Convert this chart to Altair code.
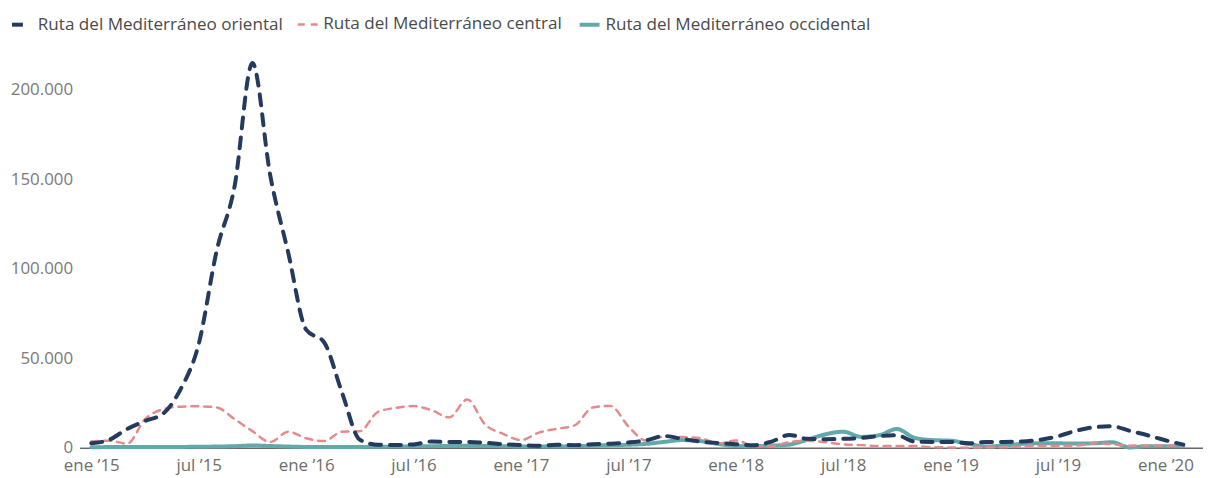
import json
import altair as alt
import pandas as pd

series_names = [
    "Ruta del Mediterráneo oriental",
    "Ruta del Mediterráneo central",
    "Ruta del Mediterráneo occidental",
]
series_colors = ["#243a5e", "#e58a8a", "#62a9a9"]

# monthly, Jan 2015 .. Feb 2020
months = [f"{y}-{m:02d}" for y in range(2015, 2021) for m in range(1, 13)][:62]

oriental = [
    2500, 4500, 10500, 15000, 19000, 33000, 58000, 110000, 146000, 215000, 152000, 109000,
    66000, 59000, 31000, 4500, 1700, 1600, 1900, 3500, 3200, 3300, 2800, 2000,
    1500, 1200, 1700, 1500, 2000, 2300, 3000, 4200, 6600, 5000, 3500, 2700,
    2000, 1400, 3500, 7200, 5000, 4800, 5000, 5500, 6500, 7000, 3500, 3300,
    3300, 2500, 3300, 3300, 3500, 4500, 6500, 9500, 11500, 12000, 9500, 7000,
    4200, 1800,
]
central = [
    3500, 4000, 2300, 16000, 21500, 23000, 23200, 22600, 16000, 9300, 3200, 9000,
    5300, 3800, 9000, 9300, 20000, 22300, 23300, 21000, 17000, 27000, 13000, 7800,
    4300, 8500, 10600, 12500, 22500, 23400, 12000, 4000, 6200, 6000, 5500, 2400,
    4100, 1100, 1050, 3200, 3900, 3200, 1900, 1500, 950, 1000, 980, 360,
    200, 60, 260, 250, 780, 1200, 1100, 1300, 2500, 2000, 1200, 1300,
    1300, 1200,
]
occidental = [
    300, 400, 400, 400, 500, 500, 600, 700, 900, 1300, 1000, 700,
    500, 500, 500, 500, 600, 700, 800, 900, 1000, 1100, 1000, 900,
    700, 800, 700, 900, 1200, 1500, 1700, 2200, 3300, 4300, 3800, 2200,
    1000, 900, 1200, 1800, 4500, 7500, 9000, 6100, 7000, 10500, 5500, 4300,
    4000, 2200, 700, 1300, 2200, 2500, 2500, 2400, 2500, 3100, 200, 900,
    900, 800,
]

tick_values = [0, 6, 12, 18, 24, 30, 36, 42, 48, 54, 60]
tick_labels = [
    "ene ’15", "jul ’15", "ene ’16", "jul ’16", "ene ’17", "jul ’17",
    "ene ’18", "jul ’18", "ene ’19", "jul ’19", "ene ’20",
]
y_ticks = [0, 50000, 100000, 150000, 200000]

rows = []
# drawing order: occidental first, oriental last (on top)
for name, vals in [
    (series_names[2], occidental),
    (series_names[1], central),
    (series_names[0], oriental),
]:
    for i, v in enumerate(vals):
        rows.append({"serie": name, "mes": months[i], "idx": i, "valor": v})
df = pd.DataFrame(rows)

FONT = "Open Sans"

legend = alt.Legend(
    title=None,
    orient="none",
    legendX=-80,
    legendY=-42,
    direction="horizontal",
    symbolType="stroke",
    symbolSize=400,
    symbolStrokeWidth=3,
    labelFont=FONT,
    labelFontSize=17.2,
    labelColor="#4a4a4a",
    labelOffset=4,
    labelLimit=0,
    columnPadding=9,
    padding=0,
)

x_label_expr = json.dumps(tick_labels, ensure_ascii=False) + "[round(datum.value / 6)]"

chart = (
    alt.Chart(df)
    .mark_line(interpolate="monotone", strokeCap="round", strokeJoin="round")
    .encode(
        x=alt.X(
            "idx:Q",
            scale=alt.Scale(domain=[-0.1, 62.1], nice=False, zero=False),
            axis=alt.Axis(
                values=tick_values,
                labelExpr=x_label_expr,
                title=None,
                grid=False,
                ticks=False,
                tickSize=0,
                domainColor="#666666",
                domainWidth=1.5,
                labelFont=FONT,
                labelFontSize=17,
                labelColor="#6d6d6d",
                labelPadding=10,
                labelFlush=False,
                labelOverlap=False,
            ),
        ),
        y=alt.Y(
            "valor:Q",
            scale=alt.Scale(domain=[0, 220000], nice=False),
            axis=alt.Axis(
                values=y_ticks,
                labelExpr="replace(format(datum.value, ','), ',', '.')",
                title=None,
                grid=False,
                domain=False,
                tickSize=10,
                tickWidth=1.5,
                tickColor={
                    "condition": {"test": "datum.value === 0", "value": "#666666"},
                    "value": "rgba(0,0,0,0)",
                },
                labelPadding=7,
                labelFont=FONT,
                labelFontSize=17,
                labelColor="#7a7a7a",
            ),
        ),
        color=alt.Color(
            "serie:N",
            scale=alt.Scale(domain=series_names, range=series_colors),
            legend=legend,
        ),
        strokeDash=alt.StrokeDash(
            "serie:N",
            scale=alt.Scale(domain=series_names, range=[[11, 9], [7, 6], [1, 0]]),
            legend=legend,
        ),
        strokeWidth=alt.StrokeWidth(
            "serie:N",
            scale=alt.Scale(type="ordinal", domain=series_names, range=[4, 2.5, 4]),
            legend=None,
        ),
        order=alt.Order("idx:Q"),
    )
    .properties(
        width=1120,
        height=396,
        autosize=alt.AutoSizeParams(type="none"),
        padding={"left": 82, "top": 45, "right": 0, "bottom": 30},
    )
    .configure_view(stroke=None)
)

chart.save("out.html", embed_options={"renderer": "svg", "actions": False})
